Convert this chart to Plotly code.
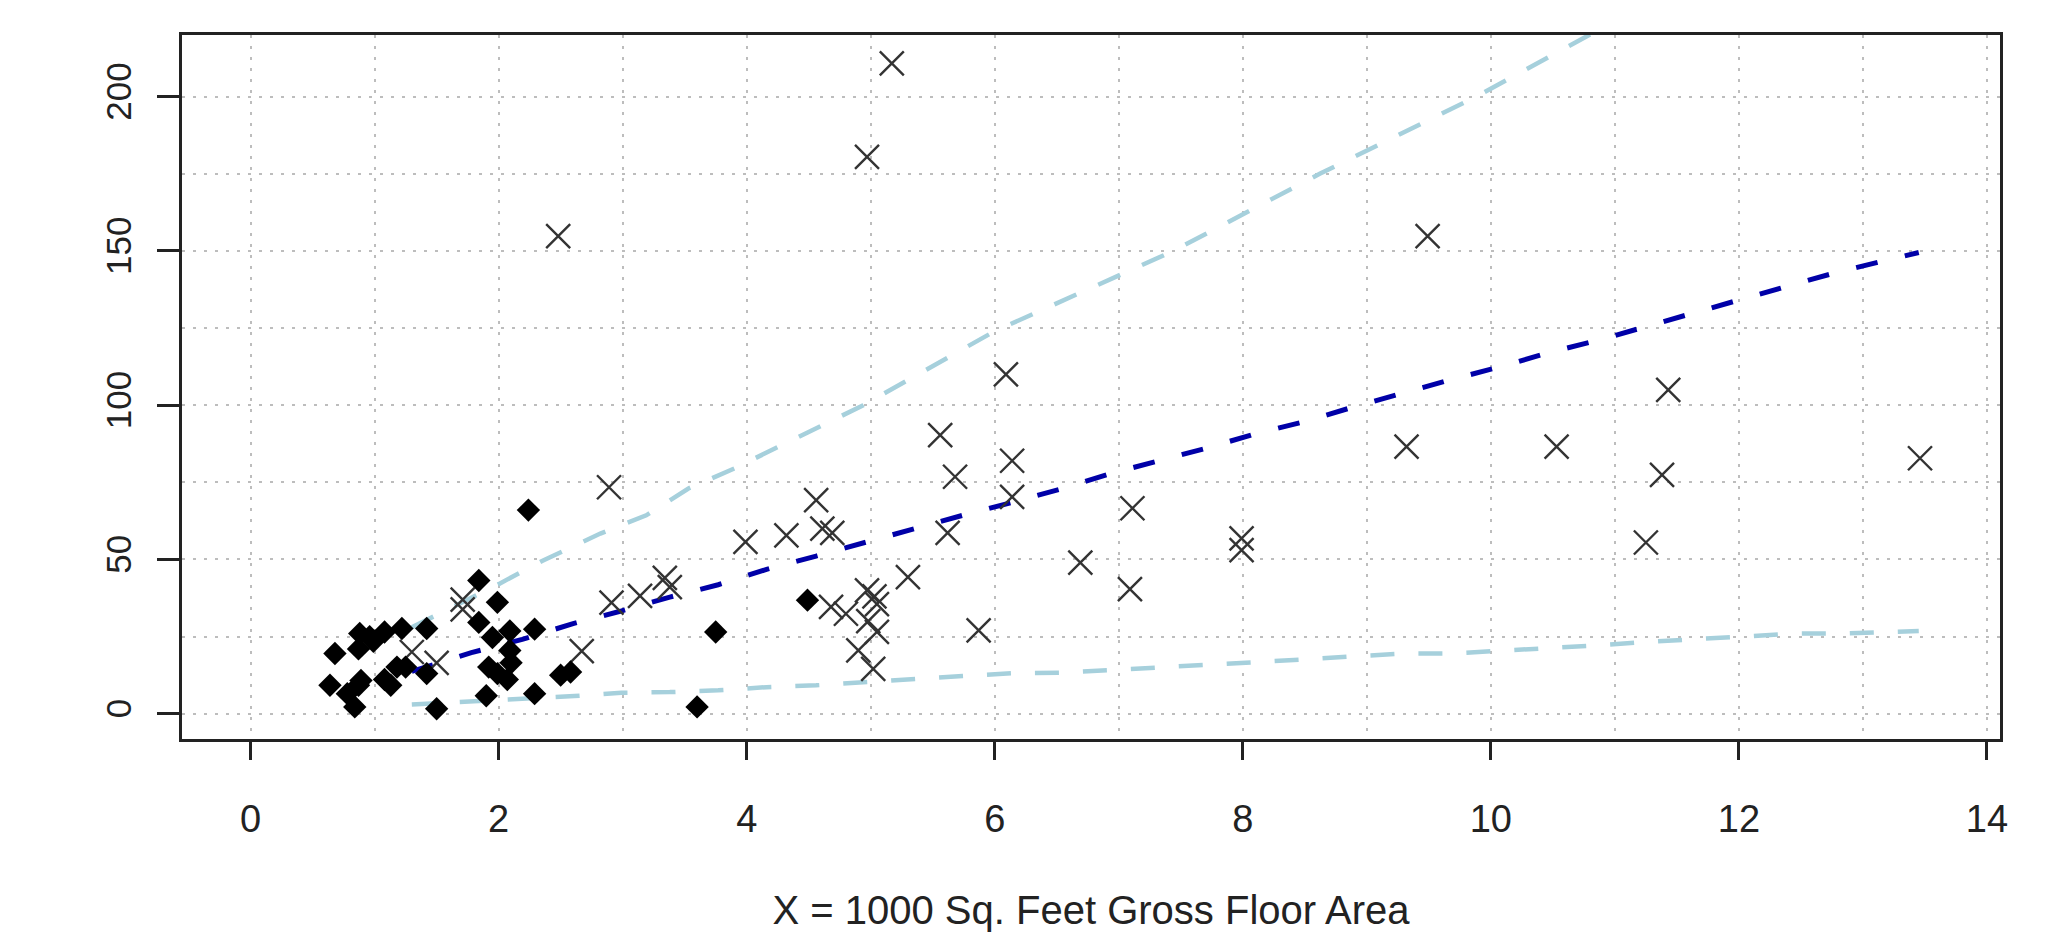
import plotly.graph_objects as go

# Filled diamonds (series 1)
diamond_x = [0.64, 0.68, 0.78, 0.84, 0.87, 0.89, 0.87, 0.88, 0.96, 0.99, 1.08, 1.22, 1.42,
             1.08, 1.13, 1.18, 1.25, 1.42, 1.50, 1.84, 1.99, 1.84, 1.95, 2.09, 2.29, 2.09,
             2.10, 1.92, 1.99, 2.07, 1.90, 2.29, 2.24, 2.50, 2.58, 3.60, 3.75, 4.49]
diamond_y = [9.2, 19.5, 6.5, 2.2, 9.2, 10.8, 21.0, 26.0, 25.0, 23.5, 26.5, 27.6, 27.6,
             11.1, 9.2, 15.1, 15.1, 13.0, 1.6, 43.2, 36.1, 29.6, 24.7, 26.8, 27.4, 20.5,
             16.5, 15.1, 13.0, 11.1, 5.8, 6.5, 66.0, 12.5, 13.5, 2.2, 26.5, 36.8]

# Crosses (series 2)
cross_x = [1.71, 1.71, 1.30, 1.50, 2.48, 2.67, 2.89, 2.91, 3.14, 3.34, 3.38, 3.99, 4.32,
           4.56, 4.61, 4.69, 4.68, 4.80, 4.97, 5.03, 5.05, 4.98, 5.05, 4.90, 5.02, 4.97,
           5.17, 5.30, 5.56, 5.62, 5.68, 5.87, 6.09, 6.14, 6.14, 6.69, 7.09, 7.11, 7.99,
           7.99, 9.32, 9.49, 10.53, 11.25, 11.38, 11.43, 13.46]
cross_y = [37.0, 33.8, 20.0, 16.5, 154.8, 20.3, 73.4, 36.0, 38.2, 44.0, 41.0, 55.7, 57.8,
           69.2, 60.0, 58.6, 34.6, 32.4, 40.0, 38.0, 35.5, 30.0, 26.5, 20.5, 14.5, 180.5,
           210.8, 44.3, 90.3, 58.6, 76.8, 27.0, 110.0, 82.0, 70.3, 49.0, 40.4, 66.6, 56.8,
           53.0, 86.6, 154.8, 86.6, 55.5, 77.4, 105.0, 82.8]

# Fitted line (dark blue)
fit_x = [1.30, 1.78, 2.19, 2.60, 2.98, 3.38, 3.77, 4.16, 4.56, 4.95, 5.35, 5.74, 6.14, 6.52,
         6.92, 7.32, 7.70, 8.09, 8.50, 8.89, 9.30, 9.68, 10.08, 10.48, 10.87, 11.28, 11.66,
         12.02, 12.41, 12.81, 13.24, 13.45]
fit_y = [13.7, 19.8, 24.1, 29.2, 33.2, 37.8, 41.8, 46.8, 51.1, 55.5, 59.7, 64.3, 68.5, 72.7,
         77.7, 81.9, 86.0, 90.6, 94.7, 99.4, 104.2, 108.3, 112.5, 117.2, 121.1, 125.9, 130.3,
         134.5, 138.8, 143.3, 147.7, 149.5]

# Upper band (light blue)
upper_x = [1.30, 1.70, 2.00, 2.35, 2.82, 3.19, 3.53, 3.90, 4.94, 6.00, 7.44, 8.62, 9.88, 10.82, 11.00]
upper_y = [28.0, 36.0, 42.0, 49.5, 58.4, 64.3, 73.0, 79.5, 100.0, 124.0, 150.0, 175.0, 200.0, 220.6, 224.0]

# Lower band (light blue)
lower_x = [1.30, 1.76, 2.15, 2.61, 2.99, 3.38, 3.77, 4.16, 4.56, 4.95, 5.35, 5.74, 6.14, 6.52,
           6.92, 7.32, 7.70, 8.10, 8.50, 8.89, 9.30, 9.68, 10.08, 10.47, 10.87, 11.28, 11.66,
           12.05, 12.46, 12.84, 13.25, 13.45]
lower_y = [3.0, 3.9, 4.6, 5.7, 6.8, 7.0, 7.6, 8.6, 9.2, 10.3, 11.4, 12.2, 13.1, 13.3,
           14.1, 14.9, 15.9, 16.8, 17.6, 18.6, 19.5, 19.5, 20.3, 21.3, 22.2, 23.3, 24.1,
           25.1, 26.0, 26.0, 26.5, 26.8]

x_title = "X = 1000 Sq. Feet Gross Floor Area"

fig = go.Figure()
fig.add_trace(go.Scatter(x=upper_x, y=upper_y, mode="lines",
                         line=dict(color="#A6D0DC", width=4.5, dash="24px,24px"), hoverinfo="skip"))
fig.add_trace(go.Scatter(x=lower_x, y=lower_y, mode="lines",
                         line=dict(color="#A6D0DC", width=4.5, dash="24px,24px"), hoverinfo="skip"))
fig.add_trace(go.Scatter(x=fit_x, y=fit_y, mode="lines",
                         line=dict(color="#0000A8", width=5, dash="22px,28px"), hoverinfo="skip"))
fig.add_trace(go.Scatter(x=cross_x, y=cross_y, mode="markers",
                         marker=dict(symbol="x-thin-open", size=24, color="#333333",
                                     line=dict(color="#333333", width=2.4))))
fig.add_trace(go.Scatter(x=diamond_x, y=diamond_y, mode="markers",
                         marker=dict(symbol="diamond", size=18, color="black",
                                     line=dict(width=0))))

grid = dict(gridcolor="#BDBDBD", gridwidth=2, griddash="3px,8px")
fig.update_layout(
    width=2065, height=936,
    margin=dict(l=174, r=73, t=27, b=205),
    paper_bgcolor="white", plot_bgcolor="white",
    showlegend=False,
    font=dict(family="Liberation Sans, Arial, sans-serif", color="#222222", size=35),
    xaxis=dict(range=[-0.553, 14.105], tickmode="linear", tick0=0, dtick=2,
               showgrid=True, **grid,
               minor=dict(dtick=1, tick0=0, showgrid=True, ticks="", **grid),
               showline=True, linecolor="#222222", linewidth=2.5, mirror=True,
               ticks="outside", ticklen=18, tickwidth=2.5, tickcolor="#222222",
               tickfont=dict(size=38), ticklabelstandoff=27, zeroline=False,
               title=dict(text=x_title, font=dict(size=40), standoff=57)),
    yaxis=dict(range=[-8.2, 220.0], tickmode="linear", tick0=0, dtick=50,
               showgrid=True, **grid,
               minor=dict(dtick=25, tick0=0, showgrid=True, ticks="", **grid),
               showline=True, linecolor="#222222", linewidth=2.5, mirror=True,
               ticks="outside", ticklen=22, tickwidth=2.5, tickcolor="#222222",
               tickangle=-90, tickfont=dict(size=35), ticklabelstandoff=12, zeroline=False),
)
fig.write_html("out.html")
